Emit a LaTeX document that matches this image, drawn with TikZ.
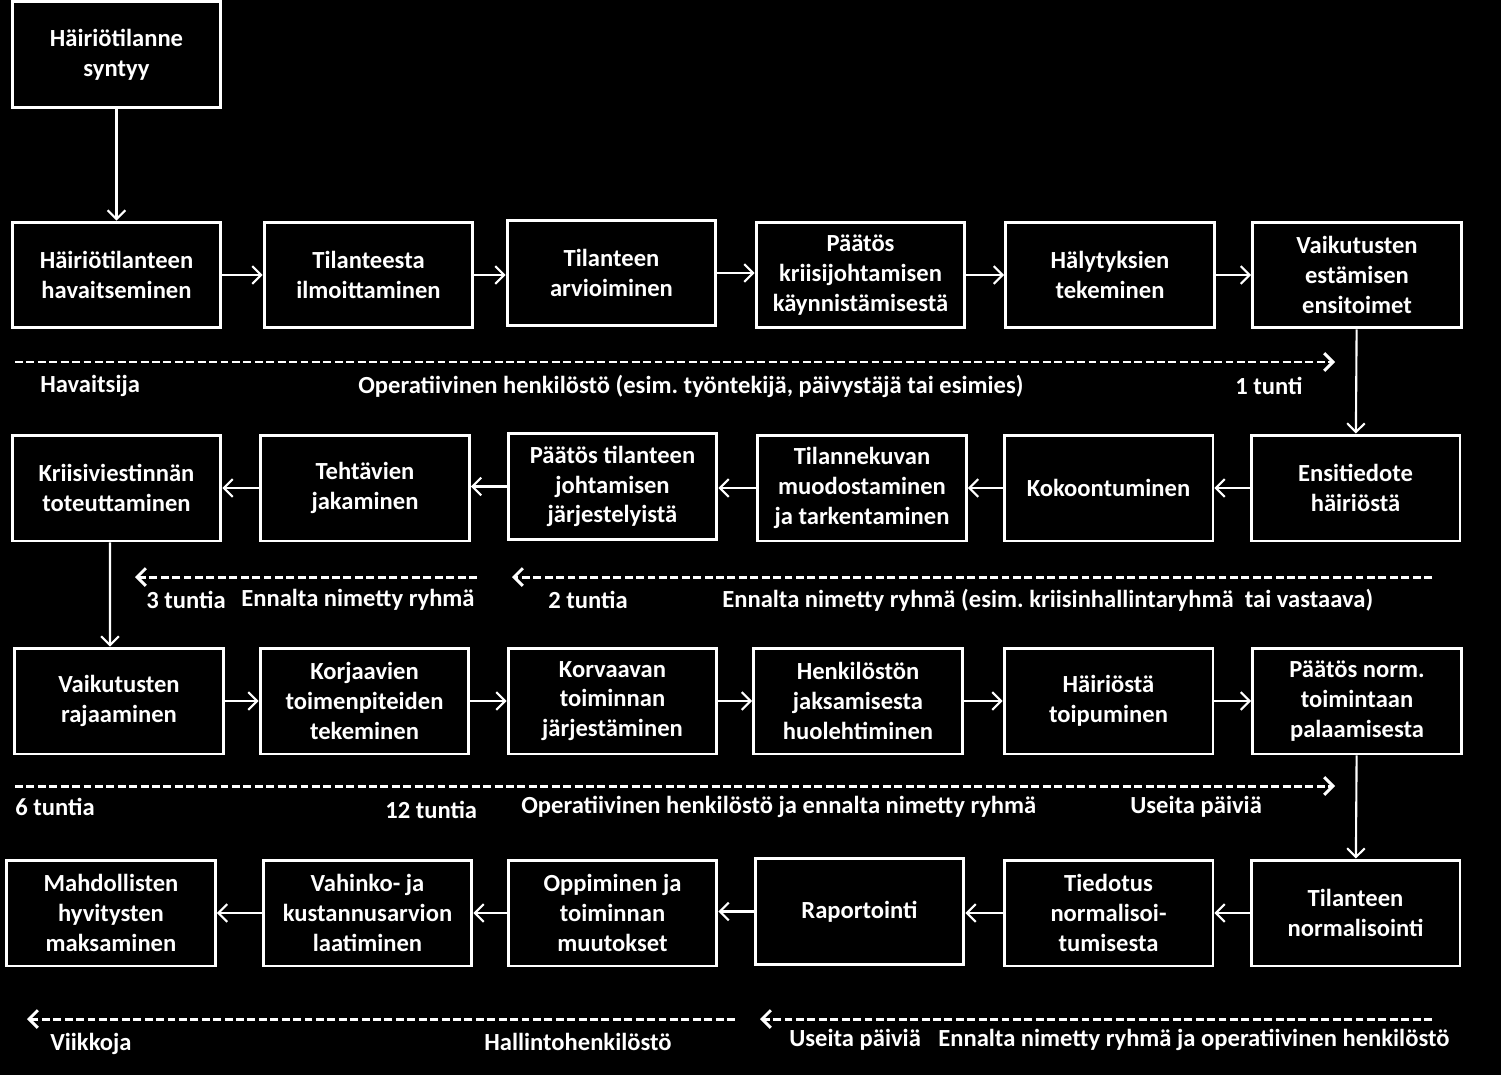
\documentclass[tikz,border=0pt]{standalone}
\usepackage{fontspec}
\setmainfont{Carlito}
\usetikzlibrary{arrows.meta}
\frenchspacing

\tikzset{
    stage/.style={draw=white, line width=1.7pt, fill=black, text=white,
        font=\bfseries\fontsize{14}{17}\selectfont, align=center,
        minimum width=4.18cm, minimum height=2.12cm, inner sep=0pt},
    flow/.style={draw=white, line width=1.2pt, -{Straight Barb[length=5pt, width=10pt]}},
    timeline/.style={draw=white, line width=1.7pt, dash pattern=on 4.5pt off 2pt,
        -{Straight Barb[length=5pt, width=10pt]}},
    tlabel/.style={text=white, font=\bfseries\fontsize{14}{17}\selectfont, anchor=west, inner sep=0pt}
}

\begin{document}
\begin{tikzpicture}[x=0.02cm, y=-0.02cm]
    % Background
    \fill[black] (0,0) rectangle (1501,1075);
    \useasboundingbox (0,0) rectangle (1501,1075);

    % Start
    \node[stage] (start) at (116.5,54.5) {Häiriötilanne\\syntyy};

    % Row 1
    \node[stage] (r1a) at (116.5,275) {Häiriötilanteen\\havaitseminen};
    \node[stage] (r1b) at (368.5,275) {Tilanteesta\\ilmoittaminen};
    \node[stage] (r1c) at (611.5,273) {Tilanteen\\arvioiminen};
    \node[stage] (r1d) at (860.5,275) {Päätös\\kriisijohtamisen\\käynnistämisestä};
    \node[stage] (r1e) at (1110,275) {Hälytyksien\\tekeminen};
    \node[stage] (r1f) at (1357,275) {Vaikutusten\\estämisen\\ensitoimet};

    % Row 2
    \node[stage] (r2f) at (1355.5,488) {Ensitiedote\\häiriöstä};
    \node[stage] (r2e) at (1108.5,488) {Kokoontuminen};
    \node[stage] (r2d) at (862,488) {Tilannekuvan\\muodostaminen\\ja tarkentaminen};
    \node[stage] (r2c) at (612.5,486.5) {Päätös tilanteen\\johtamisen\\järjestelyistä};
    \node[stage] (r2b) at (365,488) {Tehtävien\\jakaminen};
    \node[stage] (r2a) at (116.5,488) {Kriisiviestinnän\\toteuttaminen};

    % Row 3
    \node[stage] (r3a) at (119,701) {Vaikutusten\\rajaaminen};
    \node[stage] (r3b) at (364.5,701) {Korjaavien\\toimenpiteiden\\tekeminen};
    \node[stage] (r3c) at (612.5,701) {Korvaavan\\toiminnan\\järjestäminen};
    \node[stage] (r3d) at (858,701) {Henkilöstön\\jaksamisesta\\huolehtiminen};
    \node[stage] (r3e) at (1108.5,701) {Häiriöstä\\toipuminen};
    \node[stage] (r3f) at (1357,701) {Päätös norm.\\toimintaan\\palaamisesta};

    % Row 4
    \node[stage] (r4f) at (1355.5,913) {Tilanteen\\normalisointi};
    \node[stage] (r4e) at (1108.5,913) {Tiedotus\\normalisoi-\\tumisesta};
    \node[stage] (r4d) at (859.5,911.5) {Raportointi};
    \node[stage] (r4c) at (612.5,913) {Oppiminen ja\\toiminnan\\muutokset};
    \node[stage] (r4b) at (367.5,913) {Vahinko- ja\\kustannusarvion\\laatiminen};
    \node[stage] (r4a) at (111,913) {Mahdollisten\\hyvitysten\\maksaminen};

    % Connectors
    \draw[flow] (start) -- (r1a);
    \foreach \a/\b in {r1a/r1b, r1b/r1c, r1c/r1d, r1d/r1e, r1e/r1f,
                       r3a/r3b, r3b/r3c, r3c/r3d, r3d/r3e, r3e/r3f} {
        \draw[flow] (\a.east) -- (\a.east -| \b.west);
    }
    \foreach \a/\b in {r2f/r2e, r2e/r2d, r2d/r2c, r2c/r2b, r2b/r2a,
                       r4f/r4e, r4e/r4d, r4d/r4c, r4c/r4b, r4b/r4a} {
        \draw[flow] (\a.west) -- (\a.west -| \b.east);
    }
    \draw[flow] (r1f) -- (r2f);
    \draw[flow] ([xshift=-0.13cm]r2a.south) -- ([xshift=-0.18cm]r3a.north);
    \draw[flow] (r3f) -- (r4f);

    % Timelines
    \coordinate (t1s) at (15,362);   \coordinate (t1e) at (1335,362);
    \coordinate (t2s) at (477,577);  \coordinate (t2e) at (135,577);
    \coordinate (t3s) at (1432,577); \coordinate (t3e) at (512,577);
    \coordinate (t4s) at (15,786);   \coordinate (t4e) at (1335,786);
    \coordinate (t5s) at (735,1019); \coordinate (t5e) at (27,1019);
    \coordinate (t6s) at (1432,1019); \coordinate (t6e) at (760,1019);
    \foreach \i in {1,...,6} {
        \draw[timeline] (t\i s) -- (t\i e);
    }

    % Timeline labels
    \node[tlabel] (havaitsija) at (40,386) {Havaitsija};
    \node[tlabel] (oper1) at (358,386) {Operatiivinen henkilöstö (esim. työntekijä, päivystäjä tai esimies)};
    \node[tlabel] (tunti1) at (1235,386) {1 tunti};
    \node[tlabel] (tunti3) at (146,600) {3 tuntia};
    \node[tlabel] (ryhma1) at (241,600) {Ennalta nimetty ryhmä};
    \node[tlabel] (tunti2) at (548,600) {2 tuntia};
    \node[tlabel] (ryhma2) at (722,600) {Ennalta nimetty ryhmä (esim. kriisinhallintaryhmä\ \ tai vastaava)};
    \node[tlabel] (tunti6) at (15,807) {6 tuntia};
    \node[tlabel] (tunti12) at (385,810) {12 tuntia};
    \node[tlabel] (oper2) at (521,807) {Operatiivinen henkilöstö ja ennalta nimetty ryhmä};
    \node[tlabel] (paivia1) at (1130,807) {Useita päiviä};
    \node[tlabel] (viikkoja) at (50,1044) {Viikkoja};
    \node[tlabel] (hallinto) at (484,1042) {Hallintohenkilöstö};
    \node[tlabel] (paivia2) at (789,1040) {Useita päiviä};
    \node[tlabel] (ryhma3) at (938,1040) {Ennalta nimetty ryhmä ja operatiivinen henkilöstö};
\end{tikzpicture}
\end{document}
